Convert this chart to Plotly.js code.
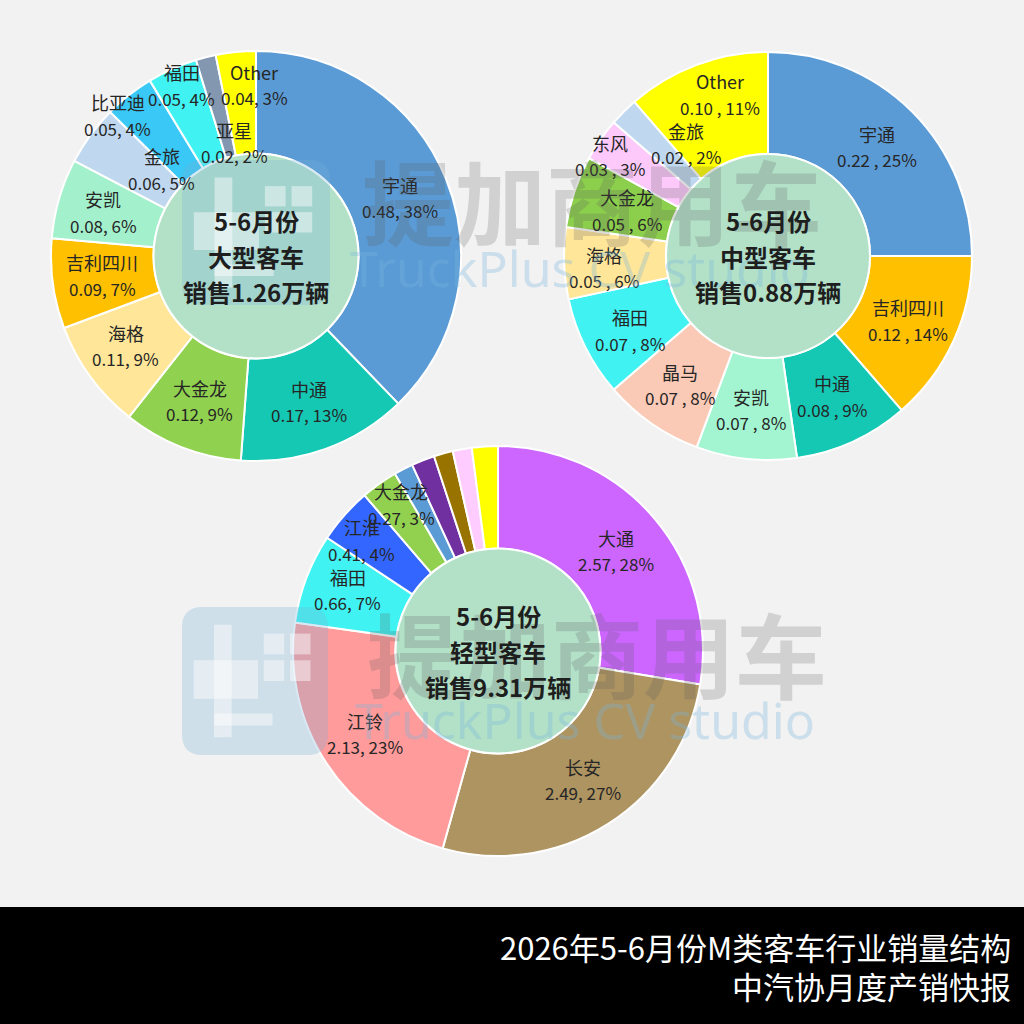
<!DOCTYPE html>
<html>
<head>
<meta charset="utf-8">
<script src="https://cdn.plot.ly/plotly-3.0.1.min.js"></script>
<style>
html,body{margin:0;padding:0;background:#f2f2f2;}
#chart{width:1024px;height:1024px;}
</style>
</head>
<body>
<div id="chart"></div>
<script>
// ---------------- DATA ----------------
const largeNames  = ['宇通','中通','大金龙','海格','吉利四川','安凯','金旅','比亚迪','福田','亚星','Other'];
const largeValues = [0.48, 0.17, 0.12, 0.11, 0.09, 0.08, 0.06, 0.05, 0.05, 0.02, 0.04];
const largeTitle  = ['5-6月份','大型客车','销售1.26万辆'];

const mediumNames  = ['宇通','吉利四川','中通','安凯','晶马','福田','海格','大金龙','东风','金旅','Other'];
const mediumValues = [0.22, 0.12, 0.08, 0.07, 0.07, 0.07, 0.05, 0.05, 0.03, 0.02, 0.10];
const mediumTitle  = ['5-6月份','中型客车','销售0.88万辆'];

const lightNames  = ['大通','长安','江铃','福田','江淮','大金龙','其他品牌1','其他品牌2','其他品牌3','其他品牌4','Other'];
const lightValues = [2.57, 2.49, 2.13, 0.66, 0.41, 0.27, 0.14, 0.17, 0.14, 0.14, 0.19];
const lightTitle  = ['5-6月份','轻型客车','销售9.31万辆'];

const footerLines = ['2026年5-6月份M类客车行业销量结构','中汽协月度产销快报'];
const watermarkCN = '提加商用车';
const watermarkEN = 'TruckPlus CV studio';

// ---------------- STYLE ----------------
const W = 1024, H = 1024;
const FONT = 'Noto Sans CJK SC, Noto Sans, sans-serif';
const px = x => x / W;
const py = y => 1 - y / H;

const charts = [
  { names: largeNames, values: largeValues, title: largeTitle, cx: 256, cy: 256, r: 205, sep: ', ', nLabeled: 11,
    colors: ['#5b9bd5','#14c8b4','#90d14f','#ffe699','#ffc000','#a3f0cc','#bfd8ef','#3ac8f6','#40f3f2','#8497b0','#ffff00'],
    offsets: [[0,0],[0,0],[0,0],[-5,-2],[0,-2],[-4,0],[31,5],[-42,-19],[-11,-29],[16,37],[14,-17]] },
  { names: mediumNames, values: mediumValues, title: mediumTitle, cx: 768, cy: 256, r: 204, sep: ' , ', nLabeled: 11,
    colors: ['#5b9bd5','#ffc000','#14c8b4','#a3f5d2','#fbcab6','#40f3f2','#ffe699','#8ccf4c','#fdc9fb','#bfd8ef','#ffff00'],
    offsets: [[0,0],[0,0],[0,0],[0,0],[0,2],[0,5],[-10,6],[6,3],[-31,-12],[27,-3],[6,-17]] },
  { names: lightNames, values: lightValues, title: lightTitle, cx: 498, cy: 651, r: 205, sep: ', ', nLabeled: 6,
    colors: ['#cc66ff','#ae9461','#ff9b9b','#40f3f2','#3366ff','#92d050','#5b9bd5','#7030a0','#997300','#ffccff','#ffff00'],
    offsets: [[0,0],[2,-2],[-3,-2],[-5,-6],[-20,-8],[-7,-20]] }
];

const traces = [];
const shapes = [];
const annotations = [];
const centerAnn = [];

// footer band
shapes.push({type:'rect', xref:'paper', yref:'paper', x0:0, x1:1, y0:0, y1:py(907),
  fillcolor:'#000000', line:{width:0}, layer:'above'});

charts.forEach(c => {
  traces.push({
    type: 'pie',
    labels: c.names,
    values: c.values,
    hole: 0.5,
    sort: false,
    direction: 'clockwise',
    rotation: 0,
    textinfo: 'none',
    hoverinfo: 'label+value+percent',
    showlegend: false,
    marker: { colors: c.colors, line: { color: '#ffffff', width: 2 } },
    domain: { x: [px(c.cx - c.r), px(c.cx + c.r)], y: [py(c.cy + c.r), py(c.cy - c.r)] }
  });
  // center disc
  const rh = c.r * 0.5;
  shapes.push({type:'circle', xref:'paper', yref:'paper',
    x0: px(c.cx - rh), x1: px(c.cx + rh), y0: py(c.cy + rh), y1: py(c.cy - rh),
    fillcolor:'#b3e1c8', line:{color:'#ffffff', width:2}, layer:'above'});

  // slice labels from data
  const total = c.values.reduce((a,b)=>a+b,0);
  let cum = 0;
  const rl = c.r * 0.757;
  c.values.forEach((v,i) => {
    const mid = (cum + v/2) / total;
    cum += v;
    if (i >= c.nLabeled) return;
    const th = 2 * Math.PI * mid;
    const off = c.offsets[i] || [0,0];
    const x = c.cx + rl * Math.sin(th) + off[0];
    const y = c.cy - rl * Math.cos(th) + off[1];
    const pct = Math.round(v / total * 100);
    annotations.push({xref:'paper', yref:'paper', x:px(x), y:py(y - 13), text:c.names[i],
      showarrow:false, xanchor:'center', yanchor:'middle', font:{family:FONT, size:18, color:'#262626'}});
    annotations.push({xref:'paper', yref:'paper', x:px(x), y:py(y + 13), text:v.toFixed(2) + c.sep + pct + '%',
      showarrow:false, xanchor:'center', yanchor:'middle', font:{family:FONT, size:17, color:'#262626'}});
  });
  // center title
  c.title.forEach((t,k) => {
    centerAnn.push({xref:'paper', yref:'paper', x:px(c.cx), y:py(c.cy + (k-1)*35.5), text:'<b>'+t+'</b>',
      showarrow:false, xanchor:'center', yanchor:'middle', font:{family:FONT, size:24, color:'#1e1e1e'}});
  });
});

// watermark (semi-transparent, drawn over the chart)
const wm = [
  { lx0:182, lx1:330, ly0:160, ly1:305, cnX:592, cnY:198, enX:580, enY:268 },
  { lx0:182, lx1:328, ly0:607, ly1:755, cnX:597, cnY:651, enX:585, enY:720 }
];
const wmAnn = [];
wm.forEach(w => {
  const x0 = px(w.lx0), x1 = px(w.lx1), y0 = py(w.ly1), y1 = py(w.ly0);
  const r = 0.02;
  shapes.push({type:'path', xref:'paper', yref:'paper', layer:'above',
    path: `M ${x0+r},${y0} L ${x1-r},${y0} Q ${x1},${y0} ${x1},${y0+r} L ${x1},${y1-r} Q ${x1},${y1} ${x1-r},${y1} L ${x0+r},${y1} Q ${x0},${y1} ${x0},${y1-r} L ${x0},${y0+r} Q ${x0},${y0} ${x0+r},${y0} Z`,
    fillcolor:'rgba(120,175,215,0.28)', line:{width:0}});
  const lw = w.lx1 - w.lx0, lh = w.ly1 - w.ly0;
  const blocks = [
    [0.22,0.34,0.12,0.88], [0.08,0.52,0.36,0.52+0.10], [0.22,0.62,0.80,0.72],
    [0.56,0.70,0.18,0.32], [0.74,0.88,0.18,0.32], [0.56,0.70,0.36,0.50], [0.74,0.88,0.36,0.50]
  ];
  blocks.forEach(b => {
    shapes.push({type:'rect', xref:'paper', yref:'paper', layer:'above',
      x0: px(w.lx0 + b[0]*lw), x1: px(w.lx0 + b[1]*lw), y0: py(w.ly0 + b[3]*lh), y1: py(w.ly0 + b[2]*lh),
      fillcolor:'rgba(255,255,255,0.45)', line:{width:0}});
  });
  wmAnn.push({xref:'paper', yref:'paper', x:px(w.cnX), y:py(w.cnY), text:'<b>'+watermarkCN+'</b>', showarrow:false,
    xanchor:'center', yanchor:'middle', font:{family:FONT, size:92, color:'rgba(90,90,90,0.22)'}});
  wmAnn.push({xref:'paper', yref:'paper', x:px(w.enX), y:py(w.enY), text:watermarkEN, showarrow:false,
    xanchor:'center', yanchor:'middle', font:{family:'Noto Sans, sans-serif', size:50, color:'rgba(120,180,220,0.32)'}});
});

// footer text
const footAnn = footerLines.map((t,k) => ({xref:'paper', yref:'paper', x:px(1013), y:py(946 + k*39), text:t,
  showarrow:false, xanchor:'right', yanchor:'middle', font:{family:FONT, size:31, color:'#ffffff'}}));

const layout = {
  width: W, height: H,
  margin: {l:0, r:0, t:0, b:0},
  paper_bgcolor: '#f2f2f2',
  plot_bgcolor: '#f2f2f2',
  showlegend: false,
  shapes: shapes,
  annotations: annotations.concat(wmAnn, centerAnn, footAnn)
};

Plotly.newPlot('chart', traces, layout, {displayModeBar:false, staticPlot:true});
</script>
</body>
</html>
